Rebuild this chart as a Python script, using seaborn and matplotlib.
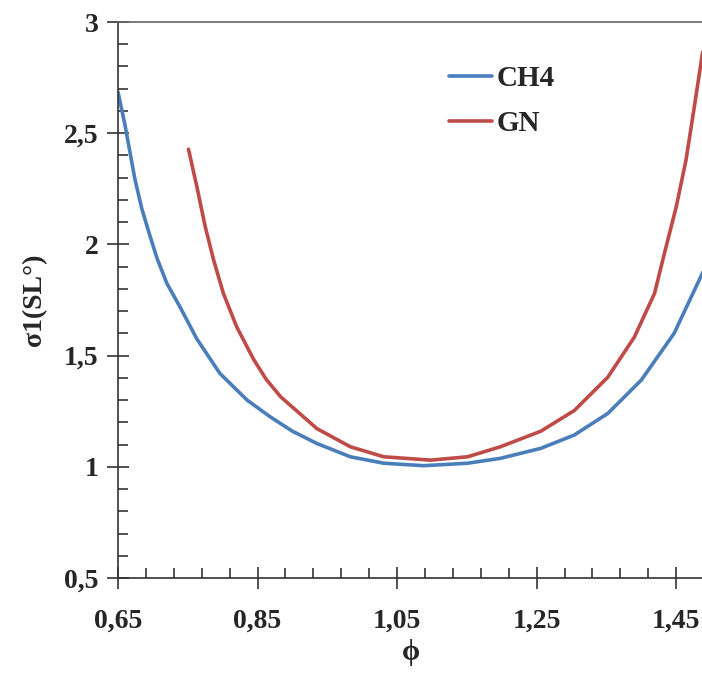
import numpy as np
import pandas as pd
import matplotlib
matplotlib.use("Agg")
import matplotlib.pyplot as plt
import seaborn as sns
from matplotlib.ticker import MultipleLocator, FixedLocator, FuncFormatter

# ---- data ----
ch4_phi = [0.650, 0.660, 0.667, 0.674, 0.684, 0.694, 0.706, 0.720, 0.739, 0.763,
           0.796, 0.835, 0.868, 0.900, 0.935, 0.983, 1.031, 1.088, 1.151, 1.198,
           1.256, 1.304, 1.352, 1.400, 1.447, 1.489]
ch4_sigma = [2.685, 2.537, 2.417, 2.297, 2.162, 2.057, 1.937, 1.825, 1.718, 1.575,
             1.420, 1.300, 1.225, 1.160, 1.105, 1.045, 1.016, 1.005, 1.016, 1.038,
             1.083, 1.143, 1.240, 1.390, 1.600, 1.880]

gn_phi = [0.751, 0.763, 0.775, 0.787, 0.801, 0.820, 0.844, 0.862, 0.883, 0.935,
          0.983, 1.031, 1.098, 1.151, 1.198, 1.256, 1.304, 1.352, 1.390, 1.419,
          1.433, 1.450, 1.464, 1.476, 1.488]
gn_sigma = [2.428, 2.260, 2.080, 1.930, 1.780, 1.630, 1.485, 1.395, 1.315, 1.172,
            1.090, 1.045, 1.030, 1.045, 1.090, 1.160, 1.253, 1.403, 1.583, 1.780,
            1.958, 2.168, 2.378, 2.619, 2.866]

series_names = ["CH4", "GN"]
series_colors = ["#4A7EBB", "#BE4B48"]
x_ticks = [0.65, 0.85, 1.05, 1.25, 1.45]
y_ticks = [0.5, 1.0, 1.5, 2.0, 2.5, 3.0]

df = pd.concat([
    pd.DataFrame({"phi": ch4_phi, "sigma": ch4_sigma, "fuel": series_names[0]}),
    pd.DataFrame({"phi": gn_phi, "sigma": gn_sigma, "fuel": series_names[1]}),
], ignore_index=True)

sns.set_theme(style="white")
plt.rcParams["font.family"] = ["Liberation Serif", "DejaVu Serif"]
plt.rcParams["font.weight"] = "bold"

fig = plt.figure(figsize=(7.02, 6.88), dpi=100)
ax = fig.add_axes([118 / 702, 1 - 578 / 688, 1 - 118 / 702 + 0.002, (578 - 22) / 688])

sns.lineplot(data=df, x="phi", y="sigma", hue="fuel", hue_order=series_names,
             palette=series_colors, sort=False, estimator=None, linewidth=2.6,
             ax=ax, legend=True, solid_joinstyle="round", solid_capstyle="round")

ax.set_xlim(0.65, 1.489)
ax.set_ylim(0.5, 3.0)

ax.xaxis.set_major_locator(FixedLocator(x_ticks))
ax.xaxis.set_minor_locator(MultipleLocator(0.04, offset=0.01))
ax.yaxis.set_major_locator(FixedLocator(y_ticks))
ax.yaxis.set_minor_locator(MultipleLocator(0.1))

def comma_fmt(v, pos):
    s = f"{v:.2f}".rstrip("0").rstrip(".")
    return s.replace(".", ",")

ax.xaxis.set_major_formatter(FuncFormatter(comma_fmt))
ax.yaxis.set_major_formatter(FuncFormatter(comma_fmt))

for sp in ["left", "bottom", "top"]:
    ax.spines[sp].set_visible(True)
    ax.spines[sp].set_color("#333333")
    ax.spines[sp].set_linewidth(1.2)
ax.spines["right"].set_visible(False)
ax.spines["top"].set_color("#666666")

ax.tick_params(axis="both", which="major", direction="inout", length=16, width=1.1,
               color="#222222", labelsize=20)
ax.tick_params(axis="both", which="minor", direction="in", length=7, width=1.1,
               color="#222222")
ax.tick_params(axis="x", which="major", pad=14)
ax.tick_params(axis="y", which="major", pad=6)
ax.tick_params(axis="both", which="both", bottom=True, left=True, top=False, right=False)
for lab in ax.get_xticklabels() + ax.get_yticklabels():
    lab.set_fontweight("bold")

ax.set_xlabel("ϕ", fontsize=21, fontweight="bold", labelpad=4)
ax.set_ylabel("σ1(SL°)", fontsize=20, fontweight="bold", labelpad=12)

handles, labels = ax.get_legend_handles_labels()
leg = ax.legend(handles, labels, loc="upper left", bbox_to_anchor=(0.52, 0.97),
                frameon=False, handlelength=1.5, handletextpad=0.15,
                labelspacing=0.62, prop={"weight": "bold", "size": 21,
                                         "family": ["Liberation Serif"]})
for line in leg.get_lines():
    line.set_linewidth(2.6)

fig.savefig("out.png", dpi=100)
